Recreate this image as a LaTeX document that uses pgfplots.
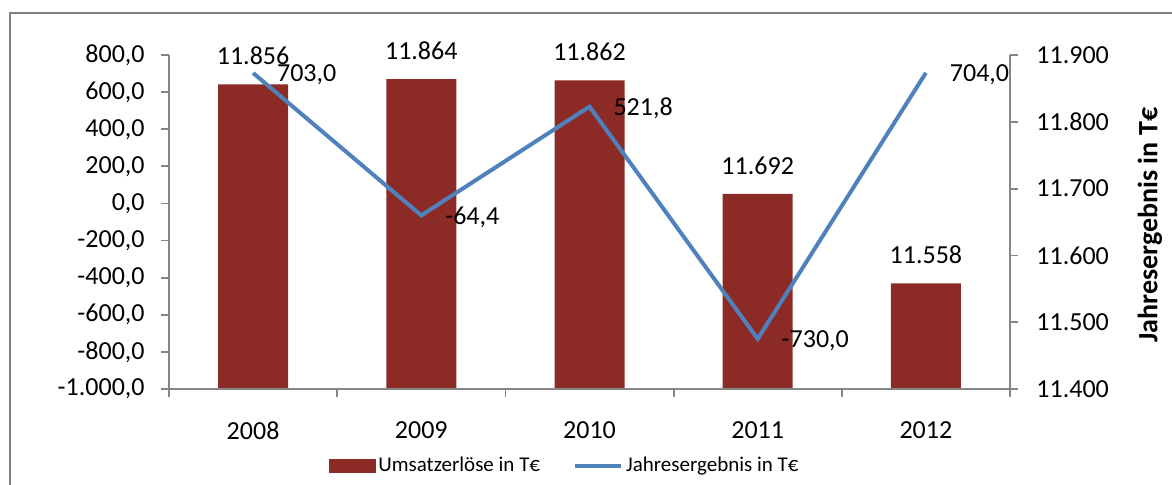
\documentclass[border=0pt]{standalone}
\usepackage{pgfplots}
\pgfplotsset{compat=1.18}
\usepackage{fontspec}
\setmainfont{Carlito}
\definecolor{barred}{RGB}{140,42,38}
\definecolor{lineblue}{RGB}{79,129,189}
\definecolor{axgray}{RGB}{134,134,134}
\definecolor{framegray}{RGB}{128,128,128}
\newcommand{\tf}{\fontsize{13}{15.6}\selectfont}
\pgfplotsset{
  myaxis/.style={
    scale only axis, width=420.5pt, height=167pt,
    at={(84.5pt,47.5pt)}, anchor=south west,
    xmin=-0.5, xmax=4.5,
    axis line style={axgray, line width=0.9pt},
    tick style={axgray, line width=0.9pt},
    tick align=outside, major tick length=4pt,
    tick label style={font=\tf},
    scaled ticks=false,
    /pgf/number format/assume math mode=true,
  }
}
\begin{document}
\begin{tikzpicture}
\useasboundingbox (0,0) rectangle (586pt,242pt);
\draw[framegray, line width=1pt] (5pt,-20pt) -- (5pt,235.5pt) -- (620pt,235.5pt);
% bars: Umsatzerloese on right axis
\begin{axis}[myaxis,
  axis x line=none, axis y line*=right,
  ymin=11400, ymax=11900,
  ytick={11400,11500,11600,11700,11800,11900},
  yticklabel style={anchor=west, inner sep=0pt, xshift=9pt},
  /pgf/number format/.cd, 1000 sep={.}, fixed,
]
\addplot[ybar, bar width=35pt, fill=barred, draw=none,
  nodes near coords,
  every node near coord/.append style={font=\tf, text=black, anchor=south, inner sep=0pt, yshift=9.5pt}]
  coordinates {(0,11856) (1,11864) (2,11862) (3,11692) (4,11558)};
\end{axis}
% line: Jahresergebnis on left axis
\begin{axis}[myaxis,
  axis x line*=bottom, axis y line*=left,
  ymin=-1000, ymax=800,
  ytick={-1000,-800,-600,-400,-200,0,200,400,600,800},
  yticklabel style={anchor=east, inner sep=0pt, xshift=-8pt},
  xtick={-0.5,0.5,1.5,2.5,3.5,4.5}, xticklabels={},
  extra x ticks={0,1,2,3,4},
  extra x tick labels={2008,2009,2010,2011,2012},
  extra x tick style={major tick length=0pt, xticklabel style={anchor=north, inner sep=0pt, yshift=-16pt}},
  /pgf/number format/.cd, fixed, fixed zerofill, precision=1, use comma, 1000 sep={.},
  /pgfplots/.cd,
  legend style={at={(0.471,-0.2305)}, anchor=center, draw=none, fill=none,
    legend columns=2, font=\fontsize{10.5}{12.6}\selectfont,
    /tikz/every even column/.append style={column sep=15pt},
    inner sep=0pt, nodes={inner sep=1.5pt}},
  legend cell align=left,
]
\addlegendimage{legend image code/.code={\fill[barred] (0pt,-3.25pt) rectangle (23pt,3.25pt);}}
\addlegendentry{Umsatzerlöse in T€}
\addplot[lineblue, line width=2pt,
  nodes near coords,
  every node near coord/.append style={font=\tf, text=black, anchor=west, inner sep=0pt, xshift=11pt, yshift=-1pt},
  legend image code/.code={\draw[lineblue, line width=2pt] (0pt,0pt) -- (23pt,0pt);}]
  coordinates {(0,703) (1,-64.4) (2,521.8) (3,-730) (4,704)};
\addlegendentry{Jahresergebnis in T€}
\end{axis}
\node[rotate=90, font=\fontsize{14}{16.8}\selectfont\bfseries] at (575pt,129.5pt) {Jahresergebnis in T€};
\end{tikzpicture}
\end{document}
